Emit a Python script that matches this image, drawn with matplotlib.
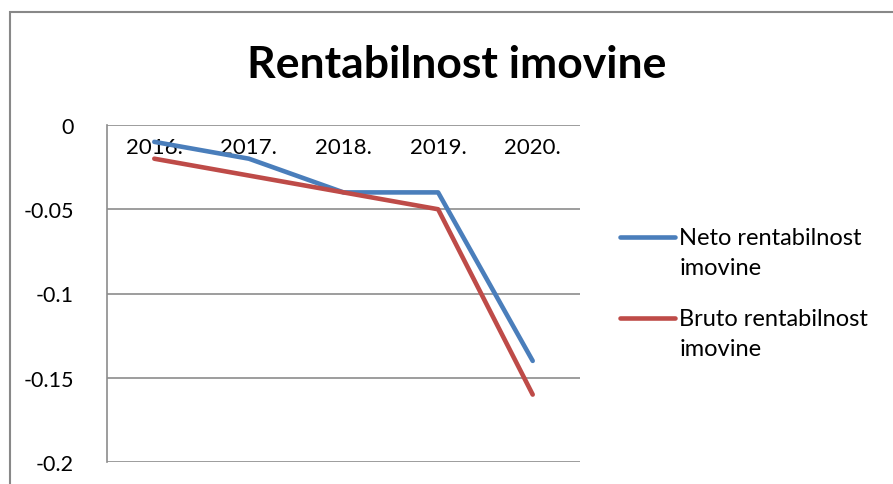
import numpy as np
import matplotlib.pyplot as plt
from matplotlib.patches import Rectangle
from matplotlib.legend_handler import HandlerLine2D

plt.rcParams['font.family'] = ['Lato', 'DejaVu Sans']

years = ['2016.', '2017.', '2018.', '2019.', '2020.']
neto = [-0.01, -0.02, -0.04, -0.04, -0.14]
bruto = [-0.02, -0.03, -0.04, -0.05, -0.16]
yticks = [0, -0.05, -0.1, -0.15, -0.2]
ytick_labels = ['0', '-0.05', '-0.1', '-0.15', '-0.2']


# legend handle sitting on the first text line, like Excel does
class TopLineHandler(HandlerLine2D):
    def __init__(self, shift, **kw):
        super().__init__(**kw)
        self.shift = shift

    def create_artists(self, legend, orig_handle, xdescent, ydescent, width,
                       height, fontsize, trans):
        arts = super().create_artists(legend, orig_handle, xdescent, ydescent,
                                      width, height, fontsize, trans)
        for a in arts:
            a.set_ydata(np.asarray(a.get_ydata()) + self.shift)
        return arts


W, H = 893, 485
fig = plt.figure(figsize=(W / 100, H / 100), dpi=100)
ax = fig.add_axes([107 / W, 1 - 463 / H, (580 - 107) / W, (463 - 126) / H])

x = np.arange(len(years))
grid_col = '#8c8c8c'
for y in yticks:
    ax.axhline(y, color=grid_col, lw=1.2, zorder=1)

l1, = ax.plot(x, neto, color='#4A7EBB', lw=3.3, solid_capstyle='round',
              solid_joinstyle='round', label='Neto rentabilnost\nimovine', zorder=3)
l2, = ax.plot(x, bruto, color='#BE4B48', lw=3.3, solid_capstyle='round',
              solid_joinstyle='round', label='Bruto rentabilnost\nimovine', zorder=3)

ax.set_xlim(-0.5, len(years) - 0.5)
ax.set_ylim(-0.2, 0)
ax.spines['bottom'].set_position(('data', 0))
ax.spines['bottom'].set_visible(False)
ax.set_yticks(yticks)
ax.set_yticklabels(ytick_labels)
ax.set_xticks(x)
ax.set_xticklabels(years)
for s in ['top', 'right']:
    ax.spines[s].set_visible(False)
ax.spines['left'].set_color(grid_col)
ax.spines['left'].set_linewidth(1.2)
ax.tick_params(axis='x', length=0, pad=9, labelsize=16)
ax.tick_params(axis='y', length=0, pad=24, labelsize=15.5)

fig.text(457 / W, 1 - 65 / H, 'Rentabilnost imovine', ha='center', va='center',
         fontsize=32, fontweight='bold')

fs = 17
leg = fig.legend(loc='center left', bbox_to_anchor=(599 / W, 1 - 294 / H),
                 frameon=False, fontsize=fs, handlelength=2.3, handletextpad=0.2,
                 labelspacing=1.25,
                 handler_map={l1: TopLineHandler(fs * 0.68),
                              l2: TopLineHandler(fs * 0.68)})
for t in leg.get_texts():
    t.set_linespacing(1.55)

fig.add_artist(Rectangle((10 / W, -0.1), 1.0, 1 - 13 / H + 0.1, transform=fig.transFigure,
                         fill=False, edgecolor='#888888', lw=1.5))

fig.savefig('out.png', dpi=100)
